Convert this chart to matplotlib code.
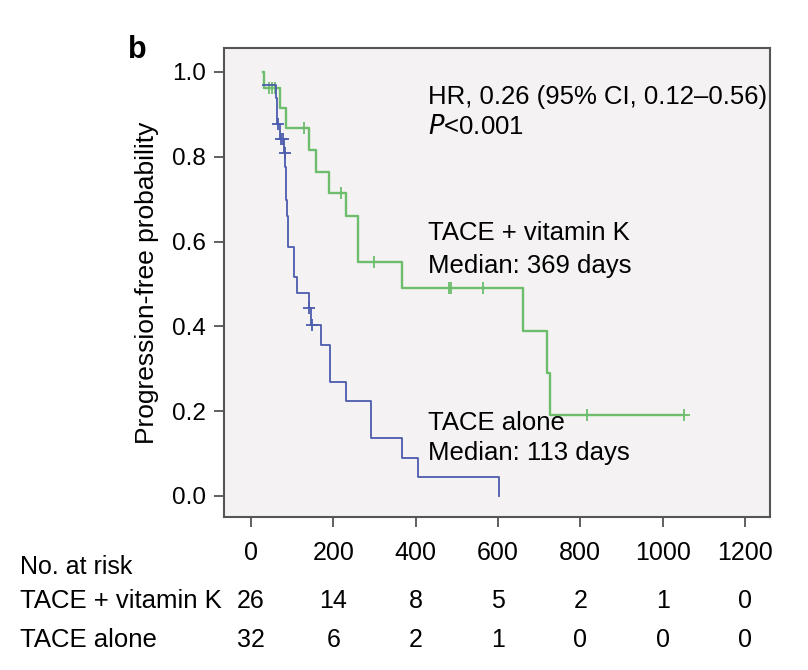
import numpy as np
import matplotlib
matplotlib.use("Agg")
import matplotlib.pyplot as plt
from matplotlib import font_manager
from matplotlib.transforms import blended_transform_factory

# TACE + vitamin K (green): step times (days) and survival after each step
vk_t = [30, 31.5, 70.5, 84, 141, 157, 190, 231, 261, 368, 661, 718, 726, 1053]
vk_s = [1.0, 0.962, 0.916, 0.867, 0.816, 0.765, 0.714, 0.661, 0.551, 0.49, 0.389, 0.289, 0.1915, 0.1915]
vk_cens_t = [44, 51, 58, 129, 219, 300, 481, 486, 564, 817, 1053]
vk_cens_s = [0.962, 0.962, 0.962, 0.867, 0.714, 0.551, 0.49, 0.49, 0.49, 0.1915, 0.1915]

# TACE alone (blue)
ta_t = [30, 61, 62.5, 64, 70, 80, 83, 84.5, 86, 88, 89.5, 91, 104, 112, 141, 146,
        169, 192, 230, 291, 366, 405, 603]
ta_s = [0.969, 0.938, 0.906, 0.877, 0.841, 0.808, 0.777, 0.745, 0.698, 0.66, 0.62, 0.588,
        0.517, 0.478, 0.443, 0.403, 0.356, 0.27, 0.224, 0.136, 0.09, 0.0455, 0.0]
ta_cens_t = [65, 74, 77, 82, 142, 147]
ta_cens_s = [0.877, 0.841, 0.841, 0.808, 0.443, 0.403]

xticks = [0, 200, 400, 600, 800, 1000, 1200]
risk_vk = [26, 14, 8, 5, 2, 1, 0]
risk_ta = [32, 6, 2, 1, 0, 0, 0]

green = '#6dbd6d'
blue = '#4c5cae'

try:
    font_manager.findfont('Liberation Sans Narrow', fallback_to_default=False)
    narrow = 'Liberation Sans Narrow'
except Exception:
    narrow = 'Liberation Sans'

plt.rcParams['font.family'] = ['Liberation Sans', 'DejaVu Sans']

fig = plt.figure(figsize=(8.08, 6.7), dpi=100)
ax = fig.add_axes([0.2772, 0.2284, 0.6757, 0.70])
ax.set_facecolor('#f4f2f2')

ax.step(vk_t, vk_s, where='post', color=green, lw=1.7)
ax.plot(vk_cens_t, vk_cens_s, '+', color=green, ms=8, mew=1.3)
ax.step(ta_t, ta_s, where='post', color=blue, lw=1.3)
ax.plot(ta_cens_t, ta_cens_s, '+', color=blue, ms=8, mew=1.3)

ax.set_xlim(-65.6, 1260.6)
ax.set_ylim(-0.0495, 1.0566)
ax.set_yticks([0.0, 0.2, 0.4, 0.6, 0.8, 1.0])
ax.set_yticklabels(['0.0', '0.2', '0.4', '0.6', '0.8', '1.0'], fontsize=17.5)
ax.set_xticks(xticks)
ax.set_xticklabels([str(v) for v in xticks], fontsize=18, family=narrow)
ax.tick_params(axis='both', direction='out', length=7, width=1.2, color='#444444')
ax.tick_params(axis='x', pad=10)
ax.tick_params(axis='y', pad=6)
for sp in ax.spines.values():
    sp.set_color('#555555')
    sp.set_linewidth(1.5)

ax.set_ylabel('Progression-free probability', fontsize=19, labelpad=9)

ax.text(430, 0.94, 'HR, 0.26 (95% CI, 0.12\u20130.56)', fontsize=18.5, va='center', ha='left')
ax.text(430, 0.87, '$P$<0.001', fontsize=18.5, va='center', ha='left')
ax.text(430, 0.62, 'TACE + vitamin K', fontsize=18.5, va='center', ha='left')
ax.text(430, 0.543, 'Median: 369 days', fontsize=18.5, va='center', ha='left')
ax.text(430, 0.172, 'TACE alone', fontsize=18.5, va='center', ha='left')
ax.text(430, 0.101, 'Median: 113 days', fontsize=18.5, va='center', ha='left')

fig.text(128 / 808, 1 - 50 / 670, 'b', fontsize=22, fontweight='bold', va='center', ha='left')

# number at risk table
tr = blended_transform_factory(ax.transData, fig.transFigure)
fig.text(20 / 808, 1 - 567 / 670, 'No. at risk', fontsize=18, family=narrow, va='center', ha='left')
fig.text(20 / 808, 1 - 601 / 670, 'TACE + vitamin K', fontsize=18.5, family=narrow, va='center', ha='left')
fig.text(20 / 808, 1 - 640 / 670, 'TACE alone', fontsize=18.5, family=narrow, va='center', ha='left')
for x, a, b in zip(xticks, risk_vk, risk_ta):
    fig.text(x, 1 - 601 / 670, str(a), fontsize=18, family=narrow, va='center', ha='center', transform=tr)
    fig.text(x, 1 - 640 / 670, str(b), fontsize=18, family=narrow, va='center', ha='center', transform=tr)

fig.savefig('out.png', dpi=100)
